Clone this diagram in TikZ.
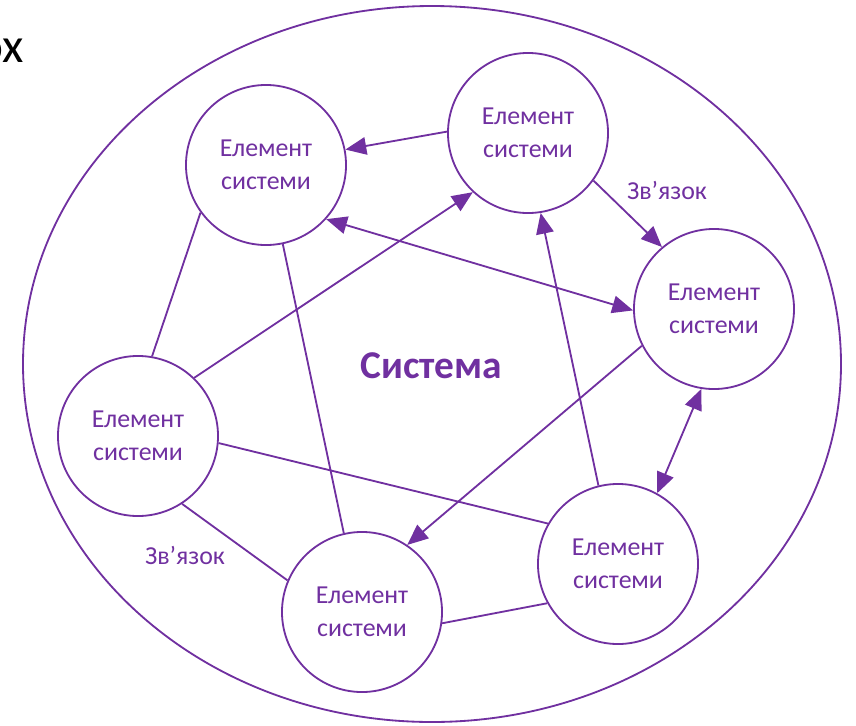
\documentclass[tikz,border=0pt]{standalone}
\usepackage{fontspec}
\setmainfont{Carlito}
\usepackage{xcolor}
\usetikzlibrary{arrows.meta}
\definecolor{sysviolet}{HTML}{7030A0}

\begin{document}
\begin{tikzpicture}[x=0.025cm, y=-0.025cm, line width=1.3pt,
            elem/.style={circle, draw=sysviolet, minimum size=4cm, inner sep=0pt, align=center,
                text=sysviolet, font=\fontsize{18.4}{23.4}\selectfont},
            link/.style={draw=sysviolet},
            oneway/.style={link, -{Triangle[length=5.2mm, width=4.4mm]}},
            twoway/.style={link, {Triangle[length=5.2mm, width=4.4mm]}-{Triangle[length=5.2mm, width=4.4mm]}},
            lbl/.style={text=sysviolet, font=\fontsize{18.4}{23.4}\selectfont}]
            \useasboundingbox (0,0) rectangle (856,725);

            \node[anchor=base east, inner sep=0pt, font=\fontsize{35}{40}\selectfont] (frag) at (25,62) {ох};

            \draw[sysviolet] (432,364) ellipse (409 and 358);
            \node[text=sysviolet, font=\fontsize{28}{32}\bfseries] (sys) at (431,366) {Система};

            \node[elem] (tl) at (266,165) {Елемент\\системи};
            \node[elem] (tc) at (528,133) {Елемент\\системи};
            \node[elem] (rt) at (714,309) {Елемент\\системи};
            \node[elem] (lf) at (138,436) {Елемент\\системи};
            \node[elem] (bt) at (362,612) {Елемент\\системи};
            \node[elem] (br) at (618,564) {Елемент\\системи};

            \draw[oneway] (tc.179) -- (tl.11);
            \draw[oneway] (lf.46) -- (tc.227);
            \draw[twoway] (tl.-42) -- (rt.181);
            \draw[oneway] (tc.-36) -- (rt.130);
            \draw[oneway] (br.104) -- (tc.-81);
            \draw[oneway] (rt.207) -- (bt.56);
            \draw[twoway] (rt.261) -- (br.61);

            \draw[link] (tl.216) -- (lf.80);
            \draw[link] (tl.-78) -- (bt.103);
            \draw[link] (lf.-5) -- (br.150);
            \draw[link] (lf.-57) -- (bt.157);
            \draw[link] (bt.-8) -- (br.209);

            \node[lbl] (l1) at (667,190) {Зв’язок};
            \node[lbl] (l2) at (185,555) {Зв’язок};
        \end{tikzpicture}
\end{document}
